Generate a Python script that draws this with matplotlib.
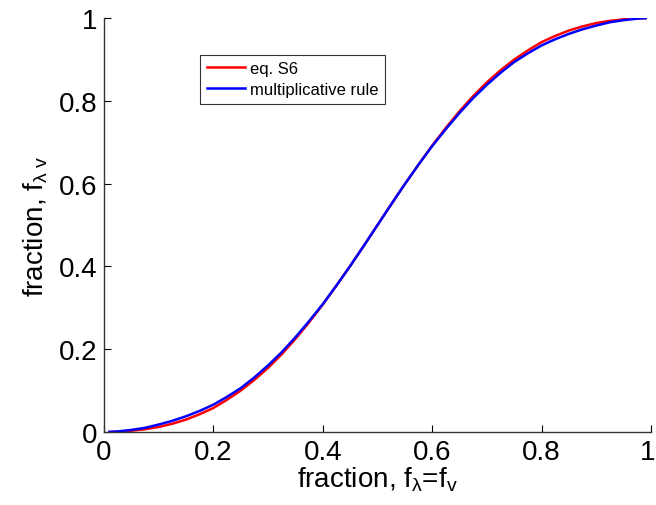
import matplotlib
matplotlib.use("Agg")
import matplotlib.pyplot as plt
import matplotlib.transforms as mtransforms

plt.rcParams['font.family'] = ['Liberation Sans', 'DejaVu Sans']
plt.rcParams['mathtext.fontset'] = 'custom'
plt.rcParams['mathtext.rm'] = 'Liberation Sans'
plt.rcParams['mathtext.it'] = 'Liberation Sans'

# values
frac = [0.01, 0.025, 0.05, 0.075, 0.10, 0.125, 0.15, 0.175, 0.20, 0.225, 0.25,
        0.275, 0.30, 0.325, 0.35, 0.375, 0.40, 0.425, 0.45, 0.475, 0.50,
        0.525, 0.55, 0.575, 0.60, 0.625, 0.65, 0.675, 0.70, 0.725, 0.75,
        0.775, 0.80, 0.825, 0.85, 0.875, 0.90, 0.925, 0.95, 0.975, 0.99]
eq_s6 = [0.0001, 0.0007, 0.003, 0.0066, 0.012, 0.020, 0.030, 0.043, 0.058, 0.078, 0.100,
         0.126, 0.155, 0.188, 0.225, 0.265, 0.308, 0.354, 0.401, 0.450, 0.500,
         0.550, 0.599, 0.646, 0.692, 0.735, 0.775, 0.812, 0.845, 0.874, 0.900,
         0.922, 0.942, 0.957, 0.970, 0.980, 0.988, 0.9934, 0.997, 0.9993, 0.9999]
mult_rule = [0.0003, 0.0013, 0.005, 0.010, 0.018, 0.027, 0.038, 0.051, 0.066, 0.085, 0.106,
             0.132, 0.161, 0.193, 0.229, 0.268, 0.309, 0.354, 0.401, 0.450, 0.500,
             0.550, 0.599, 0.646, 0.691, 0.732, 0.771, 0.807, 0.839, 0.868, 0.894,
             0.915, 0.934, 0.949, 0.962, 0.973, 0.982, 0.990, 0.995, 0.9987, 0.9997]

fig = plt.figure(figsize=(6.56, 5.06), dpi=100)
ax = fig.add_axes([0.1585, 0.1443, 0.834, 0.818])

ax.plot(frac, eq_s6, color='#ff0000', lw=1.8, label='eq. S6')
ax.plot(frac, mult_rule, color='#0000ff', lw=1.8, label='multiplicative rule')

ax.set_xlim(0, 1)
ax.set_ylim(0, 1)
ax.set_xticks([0, 0.2, 0.4, 0.6, 0.8, 1])
ax.set_xticklabels(['0', '0.2', '0.4', '0.6', '0.8', '1'])
ax.set_yticks([0, 0.2, 0.4, 0.6, 0.8, 1])
ax.set_yticklabels(['0', '0.2', '0.4', '0.6', '0.8', '1'])
ax.tick_params(direction='in', length=5, labelsize=20, width=0.8, pad=5)

# nudge the last x tick label so it stays inside the figure
last = ax.get_xticklabels()[-1]
last.set_transform(last.get_transform() +
                   mtransforms.ScaledTranslation(-3 / 100, 0, fig.dpi_scale_trans))

for s in ['top', 'right']:
    ax.spines[s].set_visible(False)
for s in ['left', 'bottom']:
    ax.spines[s].set_color('#333333')
    ax.spines[s].set_linewidth(1)

ax.set_xlabel(r'fraction, f$_{\lambda}$=f$_{\rm v}$', fontsize=20, labelpad=0)
ax.set_ylabel(r'fraction, f$_{\lambda\ \rm v}$', fontsize=20, labelpad=6)

leg = ax.legend(loc='upper left', bbox_to_anchor=(0.16, 0.932), fontsize=12,
                frameon=True, fancybox=False, edgecolor='black',
                handlelength=2.3, borderpad=0.4, labelspacing=0.35, handletextpad=0.3)
leg.get_frame().set_linewidth(0.8)

fig.savefig('out.png', dpi=100)
